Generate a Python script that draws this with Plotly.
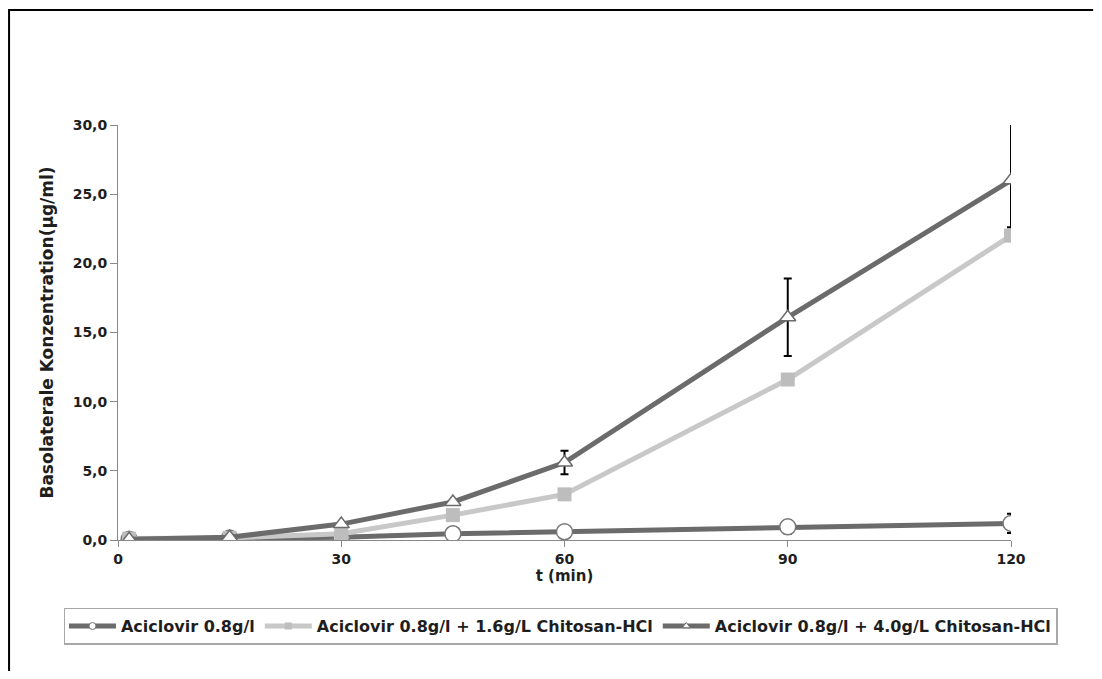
import plotly.graph_objects as go

# ---- data ----
t_min = [1.5, 15, 30, 45, 60, 90, 120]

names = [
    "Aciclovir 0.8g/l",
    "Aciclovir 0.8g/l + 1.6g/L Chitosan-HCl",
    "Aciclovir 0.8g/l + 4.0g/L Chitosan-HCl",
]
acic = [0.05, 0.15, 0.2, 0.45, 0.6, 0.95, 1.2]
acic_err = [0, 0, 0, 0, 0, 0.5, 0.7]

chit16 = [0.1, 0.15, 0.45, 1.8, 3.3, 11.6, 22.0]
chit16_err = [0, 0, 0, 0, 0, 0.3, 0]

chit40 = [0.05, 0.2, 1.15, 2.75, 5.6, 16.1, 26.0]
chit40_err_plus = [0, 0, 0, 0, 0.85, 2.8, 4.6]
chit40_err_minus = [0, 0, 0, 0, 0.85, 2.8, 3.4]

y_ticks = [0, 5, 10, 15, 20, 25, 30]
x_ticks = [0, 30, 60, 90, 120]

FONT = "DejaVu Sans, Liberation Sans, sans-serif"
TXT = "#1e1e1e"
DARK = "#6b6b6b"
LIGHT = "#c8c8c8"

fig = go.Figure()

styles = [
    dict(line=dict(color=DARK, width=5),
         marker=dict(symbol="circle", size=16, color="white", line=dict(color="#777", width=1.5))),
    dict(line=dict(color=LIGHT, width=5),
         marker=dict(symbol="square", size=14, color="#bdbdbd", line=dict(width=0))),
    dict(line=dict(color=DARK, width=5),
         marker=dict(symbol="triangle-up", size=14, color="white", line=dict(color=DARK, width=1.5))),
]
legend_markers = [
    dict(symbol="circle", size=7, color="white", line=dict(color="#777", width=1)),
    dict(symbol="square", size=7, color="#bdbdbd", line=dict(width=0)),
    dict(symbol="triangle-up", size=7, color="white", line=dict(color=DARK, width=1)),
]
series = [acic, chit16, chit40]
errors = [
    dict(type="data", array=acic_err, color="black", thickness=2, width=4),
    dict(type="data", array=chit16_err, color="black", thickness=2, width=4),
    dict(type="data", symmetric=False, array=chit40_err_plus, arrayminus=chit40_err_minus,
         color="black", thickness=2, width=4),
]

for i in range(3):
    fig.add_trace(go.Scatter(
        x=t_min, y=series[i], name=names[i], mode="lines+markers",
        line=styles[i]["line"], marker=styles[i]["marker"], error_y=errors[i],
        showlegend=False, legendgroup=str(i), cliponaxis=True,
    ))
# legend entries (smaller legend symbols, as in the reference)
for i in range(3):
    fig.add_trace(go.Scatter(
        x=[None], y=[None], name=names[i], mode="lines+markers",
        line=styles[i]["line"], marker=legend_markers[i],
        showlegend=True, legendgroup=str(i),
    ))

fig.update_layout(
    width=1086, height=663,
    margin=dict(l=110, r=83, t=117, b=131),
    paper_bgcolor="white", plot_bgcolor="white",
    separators=",.",
    font=dict(family=FONT, size=14, color=TXT, weight="bold"),
    legend=dict(
        orientation="h", x=-0.0605, xanchor="left", y=-0.163, yanchor="top",
        bordercolor="#a8a8a8", borderwidth=1.5, bgcolor="white",
        font=dict(family=FONT, size=16, color=TXT, weight="bold"),
        itemwidth=47, tracegroupgap=0,
    ),
    shapes=[dict(
        type="path", xref="paper", yref="paper",
        path="M -0.1220,-0.5 L -0.1220,1.277 L 1.092,1.277",
        line=dict(color="black", width=2), layer="below",
    )],
)

fig.update_xaxes(
    range=[0, 120], tickvals=x_ticks, ticks="outside", ticklen=6, tickcolor="#888",
    showline=True, linecolor="#888", linewidth=1, showgrid=False, zeroline=False,
    tickfont=dict(family=FONT, size=14, color=TXT, weight="bold"),
    title=dict(text="t (min)", standoff=0, font=dict(family=FONT, size=15, color=TXT, weight="bold")),
)
fig.update_yaxes(
    range=[0, 30], tickvals=y_ticks, tickformat=".1f", ticks="outside", ticklen=7, tickcolor="#888",
    showline=True, linecolor="#888", linewidth=1, showgrid=False, zeroline=False,
    tickfont=dict(family=FONT, size=14, color=TXT, weight="bold"),
    title=dict(text="Basolaterale Konzentration(µg/ml)", standoff=14,
               font=dict(family=FONT, size=17, color=TXT, weight="bold")),
)

fig.write_html("out.html")
